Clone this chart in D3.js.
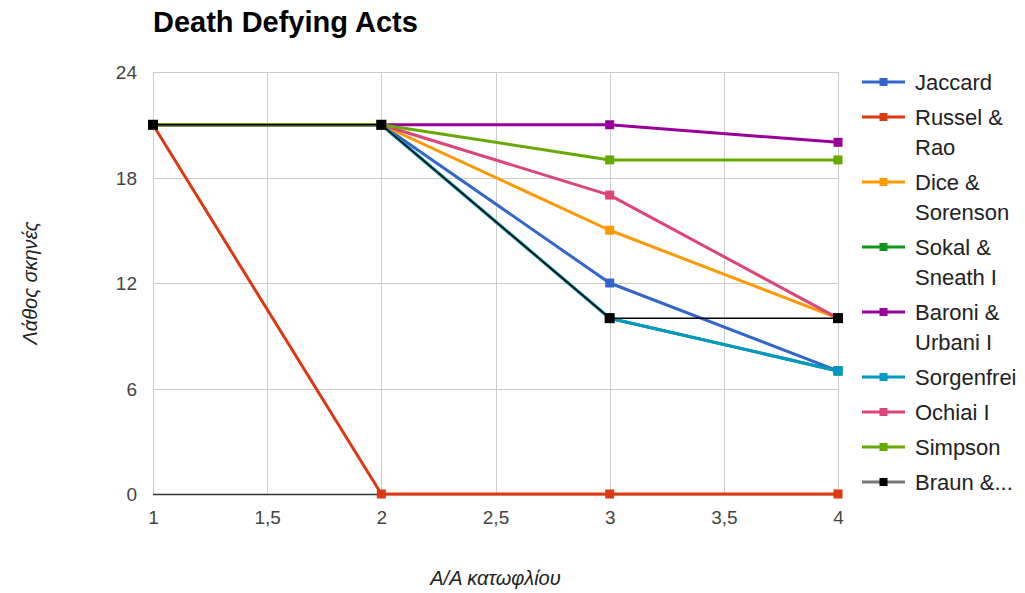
<!DOCTYPE html>
<html>
<head>
<meta charset="utf-8">
<script src="https://cdn.jsdelivr.net/npm/d3@7/dist/d3.min.js"></script>
<style>
  html, body { margin: 0; padding: 0; background: #fff; }
  svg { display: block; font-family: Arial, "Liberation Sans", sans-serif; }
</style>
</head>
<body>
<svg id="chart" width="1025" height="593"></svg>
<script>
// Threshold index on the x axis
const thresholds = [1, 2, 3, 4];

// Similarity measures (drawing order = legend order, last one on top)
const seriesNames = ["Jaccard", "Russel & Rao", "Dice & Sorenson", "Sokal & Sneath I",
  "Baroni & Urbani I", "Sorgenfrei", "Ochiai I", "Simpson", "Braun & Blanquet"];
const legendLines = [["Jaccard"], ["Russel &", "Rao"], ["Dice &", "Sorenson"], ["Sokal &", "Sneath I"],
  ["Baroni &", "Urbani I"], ["Sorgenfrei"], ["Ochiai I"], ["Simpson"], ["Braun &..."]];
const seriesColors = ["#3366cc", "#dc3912", "#ff9900", "#109618", "#990099",
  "#0099c6", "#dd4477", "#66aa00", "#000000"];

// Wrong scenes per threshold, one array per measure
const jaccard   = [21, 21, 12, 7];
const russelRao = [21, 0, 0, 0];
const dice      = [21, 21, 15, 10];
const sokal     = [21, 21, 10, 7];
const baroni    = [21, 21, 21, 20];
const sorgenfrei= [21, 21, 10, 7];
const ochiai    = [21, 21, 17, 10];
const simpson   = [21, 21, 19, 19];
const braun     = [21, 21, 10, 10];
const seriesValues = [jaccard, russelRao, dice, sokal, baroni, sorgenfrei, ochiai, simpson, braun];

// Axis ticks
const xTicks = [1, 1.5, 2, 2.5, 3, 3.5, 4];
const yTicks = [0, 6, 12, 18, 24];

const title = "Death Defying Acts";
const xTitle = "Α/Α κατωφλίου";
const yTitle = "Λάθος σκηνές";

const svg = d3.select("#chart");
const plot = { left: 153, right: 838, top: 72, bottom: 494 };

const x = d3.scaleLinear().domain([1, 4]).range([plot.left, plot.right]);
const y = d3.scaleLinear().domain([0, 24]).range([plot.bottom, plot.top]);
const fmt = d3.formatLocale({ decimal: ",", thousands: ".", grouping: [3], currency: ["", "€"] }).format("~g");

// Title
svg.append("text")
  .attr("x", plot.left).attr("y", 32)
  .attr("font-size", 29).attr("font-weight", "bold").attr("fill", "#000")
  .text(title);

// Grid lines
const grid = svg.append("g");
grid.selectAll("line.v").data(xTicks).join("line")
  .attr("x1", d => Math.round(x(d)) + 0.5).attr("x2", d => Math.round(x(d)) + 0.5)
  .attr("y1", plot.top).attr("y2", plot.bottom)
  .attr("stroke", "#cccccc").attr("stroke-width", 1);
grid.selectAll("line.h").data(yTicks.filter(d => d !== 0)).join("line")
  .attr("x1", plot.left).attr("x2", plot.right)
  .attr("y1", d => Math.round(y(d)) + 0.5).attr("y2", d => Math.round(y(d)) + 0.5)
  .attr("stroke", "#cccccc").attr("stroke-width", 1);

// Axes (tick labels only; the baseline is drawn separately)
const xAxis = d3.axisBottom(x).tickValues(xTicks).tickFormat(fmt).tickSize(0).tickPadding(0);
const gx = svg.append("g").attr("transform", `translate(0,${plot.bottom + 30})`).call(xAxis);
gx.select(".domain").remove();
gx.selectAll("text").attr("font-size", 19).attr("fill", "#444").attr("font-family", "Arial, 'Liberation Sans', sans-serif").attr("dy", 0);

const yAxis = d3.axisLeft(y).tickValues(yTicks).tickFormat(fmt).tickSize(0).tickPadding(0);
const gy = svg.append("g").attr("transform", `translate(${plot.left - 16},0)`).call(yAxis);
gy.select(".domain").remove();
gy.selectAll("text").attr("font-size", 19).attr("fill", "#444").attr("font-family", "Arial, 'Liberation Sans', sans-serif").attr("dy", "0.35em");

// Baseline at zero
svg.append("line")
  .attr("x1", plot.left).attr("x2", plot.right)
  .attr("y1", Math.round(y(0)) + 0.5).attr("y2", Math.round(y(0)) + 0.5)
  .attr("stroke", "#333").attr("stroke-width", 1.5);

// Axis titles
svg.append("text")
  .attr("x", (plot.left + plot.right) / 2).attr("y", 585)
  .attr("text-anchor", "middle").attr("font-size", 20).attr("font-style", "italic").attr("fill", "#222")
  .text(xTitle);
svg.append("text")
  .attr("transform", `translate(37,${(plot.top + plot.bottom) / 2}) rotate(-90)`)
  .attr("text-anchor", "middle").attr("font-size", 20).attr("font-style", "italic").attr("fill", "#222")
  .text(yTitle);

// Series lines and square markers
const line = d3.line().x((d, i) => x(thresholds[i])).y(d => y(d));
seriesValues.forEach((vals, s) => {
  const isBraun = s === seriesValues.length - 1;
  const g = svg.append("g");
  g.append("path").datum(vals)
    .attr("d", line).attr("fill", "none")
    .attr("stroke", seriesColors[s]).attr("stroke-width", isBraun ? 1.5 : 3)
    .attr("stroke-linejoin", "round");
  const m = isBraun ? 10 : 9;
  g.selectAll("rect").data(vals).join("rect")
    .attr("x", (d, i) => x(thresholds[i]) - m / 2).attr("y", d => y(d) - m / 2)
    .attr("width", m).attr("height", m).attr("fill", seriesColors[s]);
});

// Legend
const legend = svg.append("g");
let ly = 82;
legendLines.forEach((lines, s) => {
  const isBraun = s === legendLines.length - 1;
  const g = legend.append("g").attr("transform", `translate(0,${ly})`);
  g.append("line").attr("x1", 862).attr("x2", 905).attr("y1", 0).attr("y2", 0)
    .attr("stroke", isBraun ? "#777" : seriesColors[s]).attr("stroke-width", 3);
  const m = 8;
  g.append("rect").attr("x", 883.5 - m / 2).attr("y", -m / 2).attr("width", m).attr("height", m)
    .attr("fill", seriesColors[s]);
  lines.forEach((t, k) => {
    g.append("text").attr("x", 915).attr("y", k * 30 + 8)
      .attr("font-size", 22).attr("fill", "#222").text(t);
  });
  ly += 35 + (lines.length - 1) * 30;
});
</script>
</body>
</html>
